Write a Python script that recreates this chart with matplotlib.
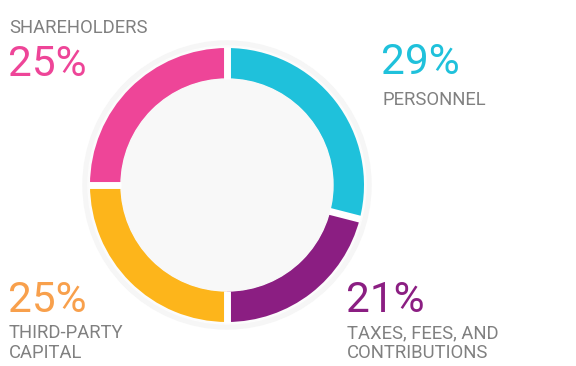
import numpy as np
import matplotlib
matplotlib.use("Agg")
import matplotlib.pyplot as plt
from matplotlib.patches import Circle

# data
labels = ["PERSONNEL", "TAXES, FEES, AND\nCONTRIBUTIONS", "THIRD-PARTY\nCAPITAL", "SHAREHOLDERS"]
shares = [29, 21, 25, 25]
colors = ["#1fc1db", "#8b1e82", "#fdb51b", "#ee4598"]
pct_colors = ["#1fc1db", "#8b1e82", "#f8a04c", "#ee4598"]

W, H = 576, 366
cx, cy = 227, H - 185
r_out, r_in = 137, 106

plt.rcParams['font.family'] = ['Roboto', 'DejaVu Sans']

fig = plt.figure(figsize=(W / 100, H / 100), dpi=100)
ax = fig.add_axes([0, 0, 1, 1])

# light halo + inner fill
ax.add_patch(Circle((cx, cy), 144, color="#f6f6f6", zorder=0))
ax.add_patch(Circle((cx, cy), 139, color="#fcfcfc", zorder=0.5))
ax.add_patch(Circle((cx, cy), r_in, color="#f8f8f8", zorder=3))

ax.pie(shares, colors=colors, startangle=90, counterclock=False,
       center=(cx, cy), radius=r_out, frame=True,
       wedgeprops=dict(width=r_out - r_in, linewidth=0))

# white gaps between segments
bounds = 90 - np.cumsum([0] + shares) / sum(shares) * 360
for a in bounds[:-1]:
    t = np.deg2rad(a)
    ax.plot([cx + r_in * np.cos(t), cx + (r_out + 1) * np.cos(t)],
            [cy + r_in * np.sin(t), cy + (r_out + 1) * np.sin(t)],
            color="white", lw=5, solid_capstyle="butt", zorder=4)

ax.set_xlim(0, W)
ax.set_ylim(0, H)
ax.set_aspect("equal")
ax.axis("off")

gray = "#808080"
lab_fs, pct_fs = 13.3, 30.5

def txt(x, y, s, c, fs):
    ax.text(x, H - y, s, color=c, fontsize=fs, ha="left", va="center",
            linespacing=1.1, zorder=5)

# SHAREHOLDERS
txt(9, 28, labels[3], gray, lab_fs)
txt(8, 65, f"{shares[3]}%", pct_colors[3], pct_fs)
# PERSONNEL
txt(381, 63, f"{shares[0]}%", pct_colors[0], pct_fs)
txt(383, 100, labels[0], gray, lab_fs)
# THIRD-PARTY CAPITAL
txt(8, 300, f"{shares[2]}%", pct_colors[2], pct_fs)
txt(9, 343, labels[2], gray, lab_fs)
# TAXES
txt(346, 300, f"{shares[1]}%", pct_colors[1], pct_fs)
txt(347, 343, labels[1], gray, lab_fs)

fig.savefig("out.png", dpi=100, facecolor="white")
